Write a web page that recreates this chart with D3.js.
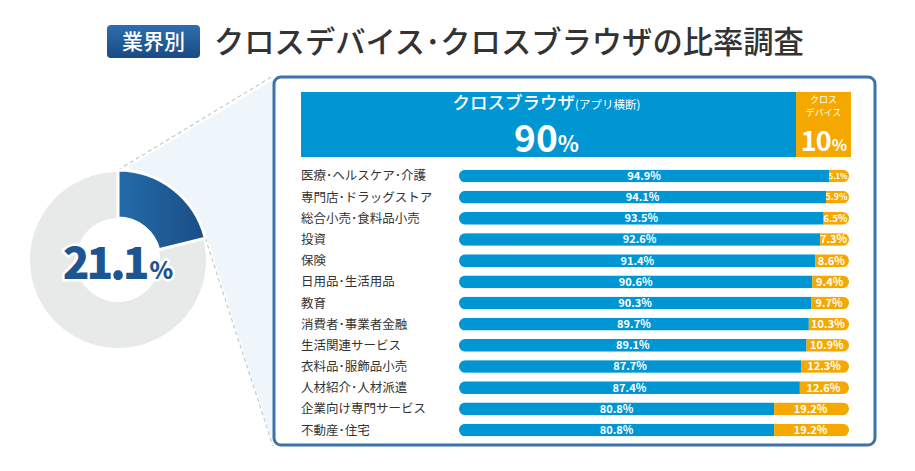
<!DOCTYPE html>
<html>
<head>
<meta charset="utf-8">
<script src="https://cdn.jsdelivr.net/npm/d3@7"></script>
<style>
  body { margin: 0; background: #fff; }
  svg { display: block; }
  text { font-family: "Noto Sans CJK JP", "Noto Sans", sans-serif; }
</style>
</head>
<body>
<svg id="chart" width="915" height="471"></svg>
<script>
// 業種ごとのクロスブラウザ / クロスデバイス比率
const categories = ["医療･ヘルスケア･介護", "専門店･ドラッグストア", "総合小売･食料品小売", "投資", "保険",
  "日用品･生活用品", "教育", "消費者･事業者金融", "生活関連サービス", "衣料品･服飾品小売",
  "人材紹介･人材派遣", "企業向け専門サービス", "不動産･住宅"];
const browserValues = [94.9, 94.1, 93.5, 92.6, 91.4, 90.6, 90.3, 89.7, 89.1, 87.7, 87.4, 80.8, 80.8];
const deviceValues = [5.1, 5.9, 6.5, 7.3, 8.6, 9.4, 9.7, 10.3, 10.9, 12.3, 12.6, 19.2, 19.2];

// 全体の比率（ヘッダー）
const headerValues = [90, 10];
// 業界別の割合（ドーナツ）
const donutValues = [21.1, 78.9];

const blue = "#0096d4", orange = "#f5a800";
const svg = d3.select("#chart");
const defs = svg.append("defs");

// --- タイトル ---
const bg = defs.append("linearGradient").attr("id", "badgeGrad").attr("x1", 0).attr("y1", 0).attr("x2", 0).attr("y2", 1);
bg.append("stop").attr("offset", "0%").attr("stop-color", "#2c6fae");
bg.append("stop").attr("offset", "100%").attr("stop-color", "#1b4a82");
svg.append("rect").attr("x", 107).attr("y", 25).attr("width", 93).attr("height", 33).attr("rx", 4)
  .attr("fill", "url(#badgeGrad)");
svg.append("text").attr("x", 153.5).attr("y", 49).attr("text-anchor", "middle")
  .attr("fill", "#fff").attr("font-size", 21).attr("font-weight", 500).text("業界別");
svg.append("text").attr("x", 214).attr("y", 53).attr("fill", "#333")
  .attr("font-size", 30.3).attr("font-weight", 500).text("クロスデバイス･クロスブラウザの比率調査");

// --- ドーナツ ---
const cx = 118, cy = 260, rOuter = 90;
const pie = d3.pie().sort(null);
const arcs = pie(donutValues);
const a1 = arcs[0].endAngle;
const p0 = [cx, cy - rOuter];
const p1 = [cx + rOuter * Math.sin(a1), cy - rOuter * Math.cos(a1)];
const boxTop = 76, boxBottom = 446, boxLeft = 273;

svg.append("polygon")
  .attr("points", [[p0[0] + 10, p0[1] - 3], [boxLeft, boxTop + 4], [boxLeft, boxBottom - 3], [p1[0] + 4, p1[1] + 6]].join(" "))
  .attr("fill", "#eef6fb");
svg.append("line").attr("x1", p0[0]).attr("y1", p0[1]).attr("x2", boxLeft).attr("y2", boxTop)
  .attr("stroke", "#c8c8c8").attr("stroke-width", 1.2).attr("stroke-dasharray", "4,3");
svg.append("line").attr("x1", p1[0]).attr("y1", p1[1]).attr("x2", boxLeft).attr("y2", boxBottom)
  .attr("stroke", "#c8c8c8").attr("stroke-width", 1.2).attr("stroke-dasharray", "4,3");

const dg = defs.append("linearGradient").attr("id", "sliceGrad").attr("x1", 0).attr("y1", 0).attr("x2", 1).attr("y2", 0);
dg.append("stop").attr("offset", "0%").attr("stop-color", "#236ca9");
dg.append("stop").attr("offset", "100%").attr("stop-color", "#1b4d86");

const donut = svg.append("g").attr("transform", `translate(${cx},${cy})`);
donut.append("path").attr("d", d3.arc().innerRadius(42).outerRadius(88)(arcs[1]))
  .attr("fill", "#e8e9e9");
donut.append("path").attr("d", d3.arc().innerRadius(42).outerRadius(rOuter)(arcs[0]))
  .attr("fill", "url(#sliceGrad)").attr("stroke", "#fff").attr("stroke-width", 3).attr("stroke-linejoin", "round");

const dt = donut.append("text").attr("x", 0).attr("y", 19).attr("text-anchor", "middle")
  .attr("font-family", "'Open Sans', sans-serif").attr("font-weight", 800)
  .attr("fill", "#1d5592").attr("stroke", "#fff").attr("stroke-width", 5).attr("paint-order", "stroke")
  .attr("stroke-linejoin", "round");
dt.append("tspan").attr("font-size", 44).attr("letter-spacing", -3).text(donutValues[0]);
dt.append("tspan").attr("font-size", 24).attr("dx", 3).text("%");

// --- 枠 ---
svg.append("rect").attr("x", boxLeft + 1).attr("y", boxTop + 1).attr("width", 601).attr("height", boxBottom - boxTop - 2)
  .attr("rx", 7).attr("fill", "#fff").attr("stroke", "#3c73a8").attr("stroke-width", 3);

// --- ヘッダー帯 ---
const xh = d3.scaleLinear().domain([0, 100]).range([301, 851]);
const hTop = 92, hH = 65;
svg.append("rect").attr("x", xh(0)).attr("y", hTop).attr("width", xh(headerValues[0]) - xh(0)).attr("height", hH).attr("fill", blue);
svg.append("rect").attr("x", xh(headerValues[0])).attr("y", hTop).attr("width", xh(100) - xh(headerValues[0])).attr("height", hH).attr("fill", orange);

const hbx = (xh(0) + xh(headerValues[0])) / 2 - 2;
const t1 = svg.append("text").attr("x", hbx).attr("y", 109).attr("text-anchor", "middle").attr("fill", "#fff");
t1.append("tspan").attr("font-size", 17.5).attr("font-weight", 500).text("クロスブラウザ");
t1.append("tspan").attr("font-size", 11.5).text("(アプリ横断)");
const t2 = svg.append("text").attr("x", hbx).attr("y", 152).attr("text-anchor", "middle").attr("fill", "#fff")
  .attr("font-family", "Roboto, sans-serif").attr("font-weight", 700);
t2.append("tspan").attr("font-size", 37).text(headerValues[0]);
t2.append("tspan").attr("font-size", 22).text("%");

const hox = (xh(headerValues[0]) + xh(100)) / 2;
svg.append("text").attr("x", hox).attr("y", 103).attr("text-anchor", "middle").attr("fill", "#fff")
  .attr("font-size", 9).text("クロス");
svg.append("text").attr("x", hox).attr("y", 116).attr("text-anchor", "middle").attr("fill", "#fff")
  .attr("font-size", 9).text("デバイス");
const t3 = svg.append("text").attr("x", hox).attr("y", 151).attr("text-anchor", "middle").attr("fill", "#fff")
  .attr("font-family", "Roboto, sans-serif").attr("font-weight", 700).attr("letter-spacing", -1);
t3.append("tspan").attr("font-size", 27).text(headerValues[1]);
t3.append("tspan").attr("font-size", 16).attr("dx", 1).text("%");

// --- 業界別バー ---
const x = d3.scaleLinear().domain([0, 100]).range([459, 849]);
const y = d3.scaleBand().domain(categories).range([165.4, 440.6]).paddingInner(0.4).paddingOuter(0.2);
const bh = y.bandwidth();

const rows = svg.append("g").selectAll("g").data(categories).join("g")
  .attr("transform", d => `translate(0,${y(d)})`);

rows.append("text").attr("x", 301).attr("y", bh / 2).attr("dy", "0.36em")
  .attr("font-size", 12.5).attr("fill", "#333").text(d => d);

rows.each(function (d, i) {
  const id = "clip" + i;
  defs.append("clipPath").attr("id", id)
    .append("rect").attr("x", x(0)).attr("y", y(d)).attr("width", x(100) - x(0)).attr("height", bh).attr("rx", bh / 2);
  const bars = svg.append("g").attr("clip-path", `url(#${id})`);
  bars.append("rect").attr("x", x(0)).attr("y", y(d)).attr("width", x(browserValues[i]) - x(0)).attr("height", bh).attr("fill", blue);
  bars.append("rect").attr("x", x(browserValues[i])).attr("y", y(d)).attr("width", x(100) - x(browserValues[i])).attr("height", bh).attr("fill", orange);

  const w2 = x(100) - x(browserValues[i]);
  svg.append("text").attr("x", (x(0) + x(browserValues[i])) / 2).attr("y", y(d) + bh / 2).attr("dy", "0.36em")
    .attr("text-anchor", "middle").attr("fill", "#fff").attr("font-size", 11).attr("font-weight", 700)
    .attr("font-family", "'Open Sans', sans-serif").text(browserValues[i] + "%");
  svg.append("text").attr("x", (x(browserValues[i]) + x(100)) / 2 - 1).attr("y", y(d) + bh / 2).attr("dy", "0.36em")
    .attr("text-anchor", "middle").attr("fill", "#fff").attr("font-size", Math.min(11, w2 / 2.6)).attr("font-weight", 700)
    .attr("font-family", "'Open Sans', sans-serif").text(deviceValues[i] + "%");
});
</script>
</body>
</html>
